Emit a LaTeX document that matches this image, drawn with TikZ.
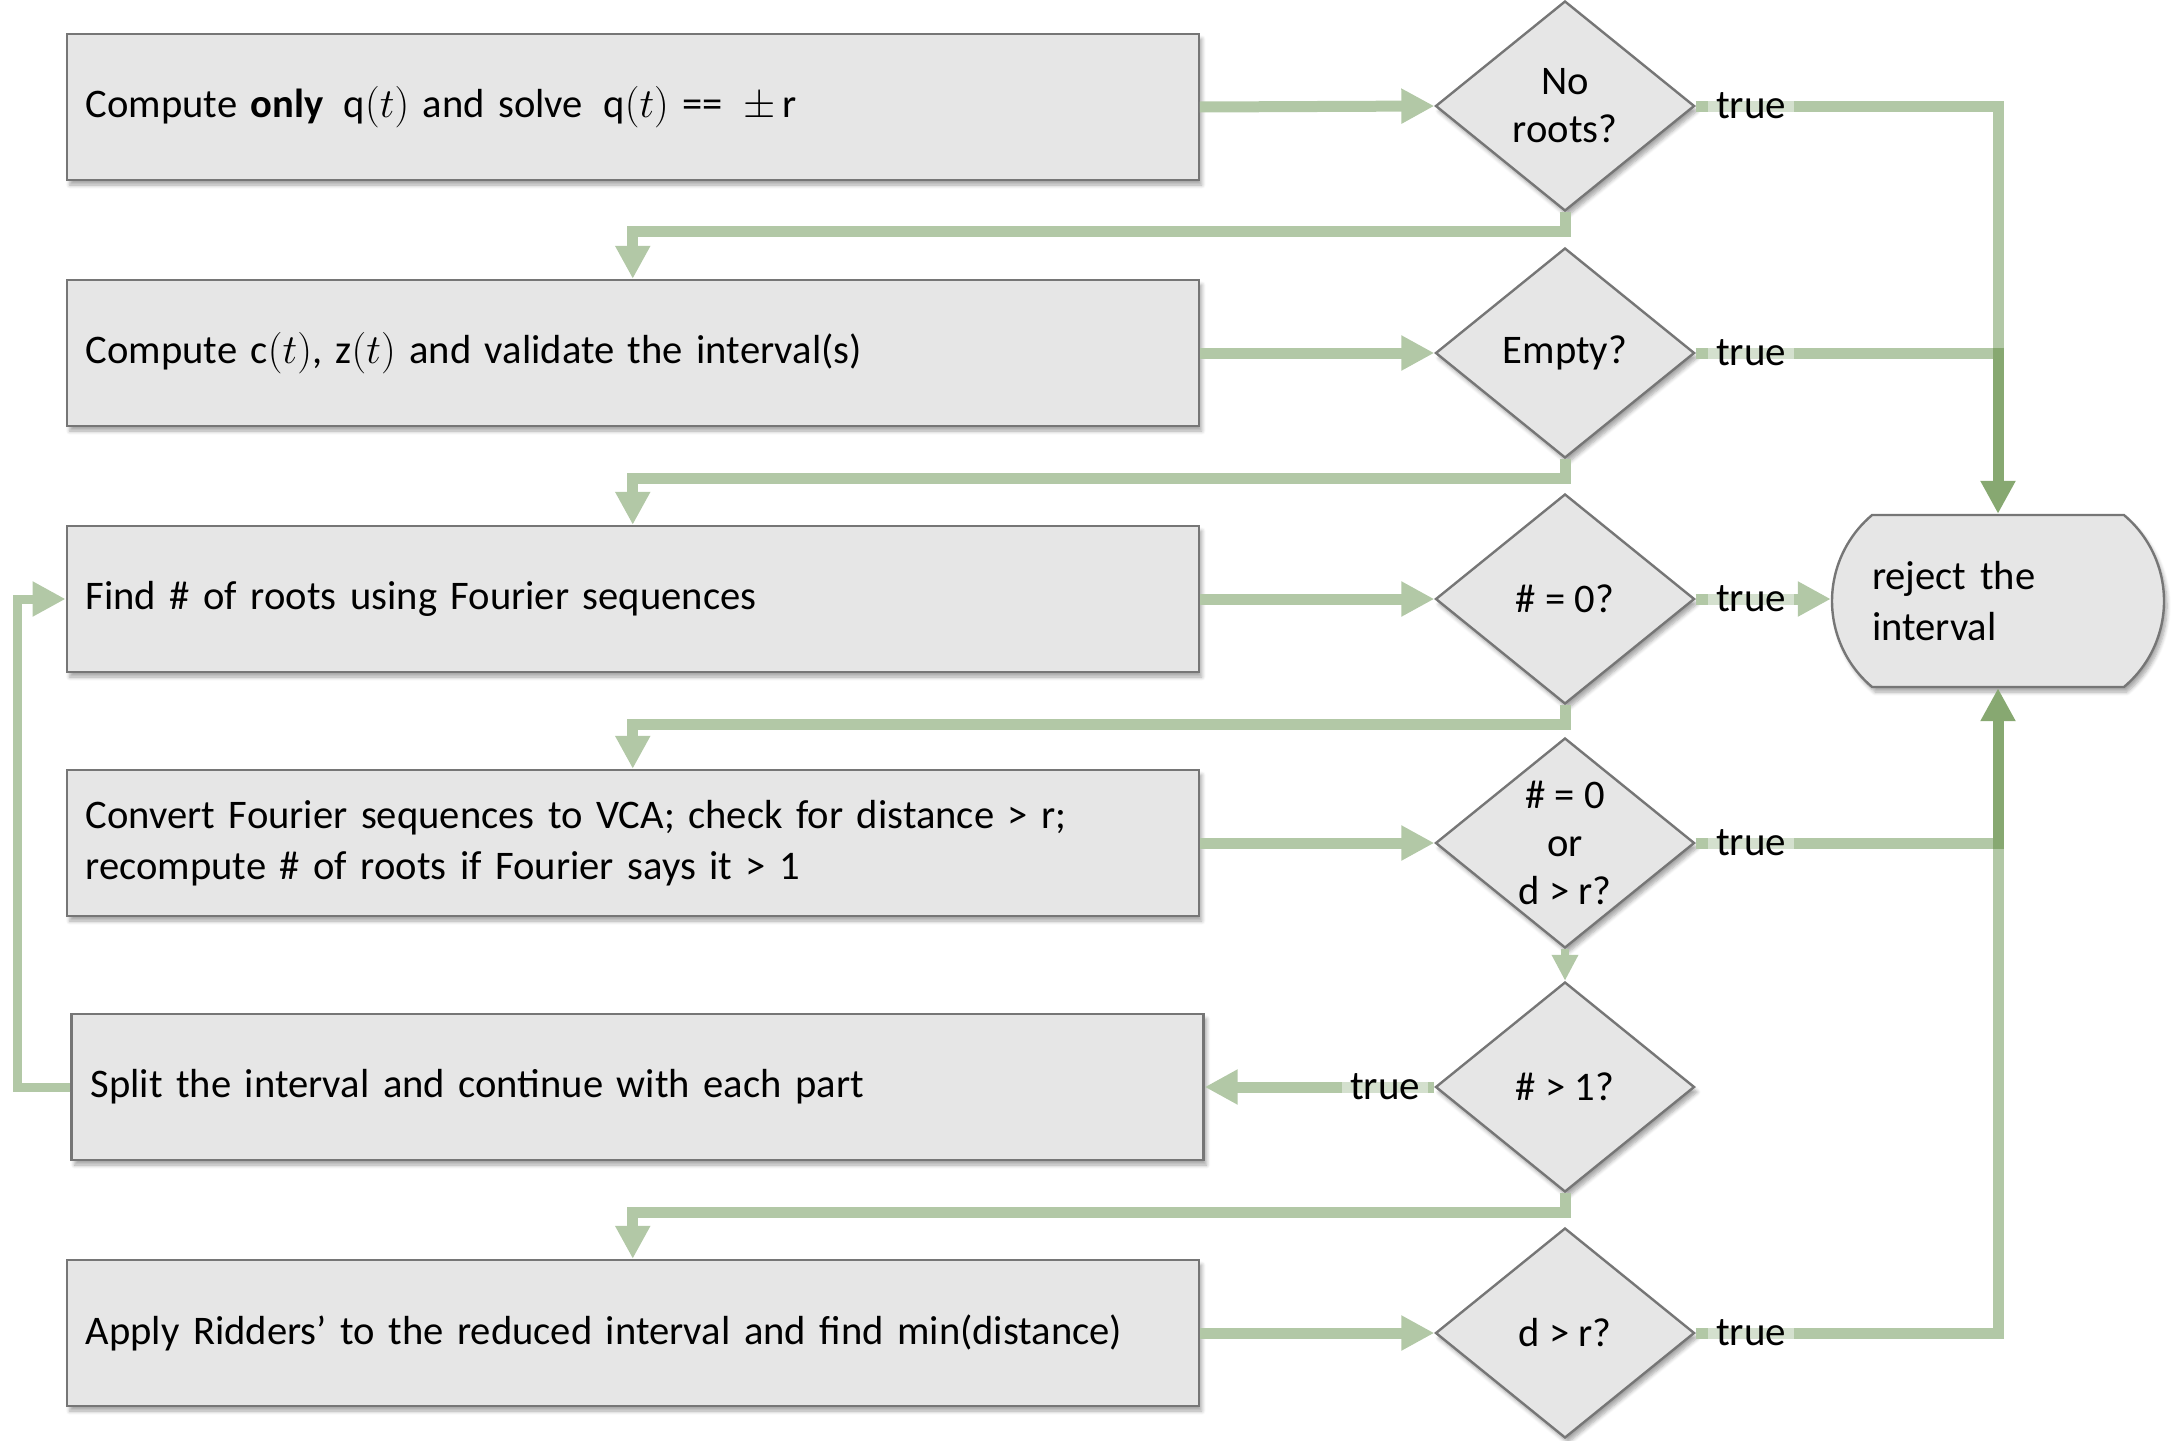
\documentclass[tikz,border=0pt]{standalone}
\usepackage{fontspec}
\setmainfont{Carlito}
\usetikzlibrary{shapes.geometric,shapes.misc,arrows.meta,shadows.blur}
\definecolor{boxfill}{RGB}{230,230,230}
\definecolor{boxline}{RGB}{118,118,118}
\definecolor{connlight}{RGB}{178,200,166}
\definecolor{conndark}{RGB}{135,168,113}
\begin{document}
\begin{tikzpicture}[x=0.5pt,y=-0.5pt,
 every node/.style={font=\fontsize{20.3pt}{25.5pt}\selectfont},
 shad/.style={blur shadow={shadow xshift=1.5pt, shadow yshift=-2.5pt, shadow blur steps=6, shadow opacity=35}},
 procbox/.style={draw=boxline, fill=boxfill, line width=1.2pt, text width=547pt, inner xsep=9.5pt, inner ysep=0pt, minimum height=73pt, align=left, shad},
 decbox/.style={diamond, draw=boxline, fill=boxfill, line width=1.2pt, minimum width=129.5pt, minimum height=105pt, inner sep=0pt, shad},
 dectext/.style={align=center, inner sep=0pt, font=\fontsize{20.3pt}{24pt}\selectfont},
 rejbox/.style={rounded rectangle, rounded rectangle arc length=100, draw=boxline, fill=boxfill, line width=1.2pt, minimum width=166pt, minimum height=86pt, text width=126pt, align=left, inner sep=0pt, shad},
 conn/.style={draw=connlight, line width=5.5pt, line join=miter, -{Triangle[length=16.5pt,width=16.5pt]}},
 connplain/.style={draw=connlight, line width=5.5pt, line join=miter},
 conndk/.style={conn, draw=conndark},
 connthin/.style={conn, line width=4.2pt, -{Triangle[length=13pt,width=12.5pt]}},
 tlabel/.style={fill=white, fill opacity=0.45, text opacity=1, inner xsep=4pt, inner ysep=1pt, font=\fontsize{20.5pt}{24pt}\selectfont}
]
\useasboundingbox (0,0) rectangle (2173,1440);

% process boxes
\node[procbox] (b1) at (632.75,107) {Compute \textbf{only}\, q$(t)$ and solve\, q$(t)$ == \,$\pm\,\mathrm{r}$};
\node[procbox] (b2) at (632.75,353) {Compute c$(t)$, z$(t)$ and validate the interval(s)};
\node[procbox] (b3) at (632.75,599) {Find \# of roots using Fourier sequences};
\node[procbox] (b4) at (632.75,843) {Convert Fourier sequences to VCA; check for distance > r;\\recompute \# of roots if Fourier says it > 1};
\node[procbox] (b5) at (637.5,1087) {Split the interval and continue with each part};
\node[procbox] (b6) at (632.75,1333) {Apply Ridders’ to the reduced interval and find min(distance)};

% decisions
\node[decbox] (d1) at (1565,106) {};
\node[decbox] (d2) at (1565,353) {};
\node[decbox] (d3) at (1565,599) {};
\node[decbox] (d4) at (1565,843) {};
\node[decbox] (d5) at (1565,1087) {};
\node[decbox] (d6) at (1565,1333) {};
\node[dectext] (d1t) at (d1.center) {No\\roots?};
\node[dectext] (d2t) at (d2.center) {Empty?};
\node[dectext] (d3t) at (d3.center) {\# = 0?};
\node[dectext] (d4t) at (d4.center) {\# = 0\\or\\d > r?};
\node[dectext] (d5t) at (d5.center) {\# > 1?};
\node[dectext] (d6t) at (d6.center) {d > r?};

% terminal
\node[rejbox] (rej) at (1998,601) {reject the\\interval};

% box -> decision
\draw[conn] (b1.east) -- (d1.west);
\draw[conn] (b2.east) -- (d2.west);
\draw[conn] (b3.east) -- (d3.west);
\draw[conn] (b4.east) -- (d4.west);
\draw[conn] (b6.east) -- (d6.west);

% decision false -> next box
\draw[conn] (d1.south) -- ++(0,19) -| (b2.north);
\draw[conn] (d2.south) -- ++(0,19) -| (b3.north);
\draw[conn] (d3.south) -- ++(0,19) -| (b4.north);
\draw[connthin] (d4.south) -- (d5.north);
\draw[conn] (d5.south) -- ++(0,19) -| (b6.north);

% true branches (overlapping runs are darker)
\draw[connplain] (d1.east) -| (d2.east -| rej.north);
\draw[connplain] (d2.east) -- (d2.east -| rej.north);
\draw[conndk] ([yshift=2.75pt]d2.east -| rej.north) -- (rej.north);
\draw[conn] (d3.east) -- (d3.east -| rej.west);
\draw[connplain] (d6.east) -| (d4.east -| rej.south);
\draw[connplain] (d4.east) -- (d4.east -| rej.south);
\draw[conndk] ([yshift=-2.75pt]d4.east -| rej.south) -- (rej.south);
\draw[conn] (d5.west) -- (b5.east);

% loop back
\draw[conn, line width=4.5pt] (b5.west) -- ++(-53,0) |- (b3.west);

% labels
\node[tlabel] (t1) at (1751,106) {true};
\node[tlabel] (t2) at (1751,353) {true};
\node[tlabel] (t3) at (1751,599) {true};
\node[tlabel] (t4) at (1751,843) {true};
\node[tlabel] (t5) at (1385,1087) {true};
\node[tlabel] (t6) at (1751,1333) {true};
\end{tikzpicture}
\end{document}
